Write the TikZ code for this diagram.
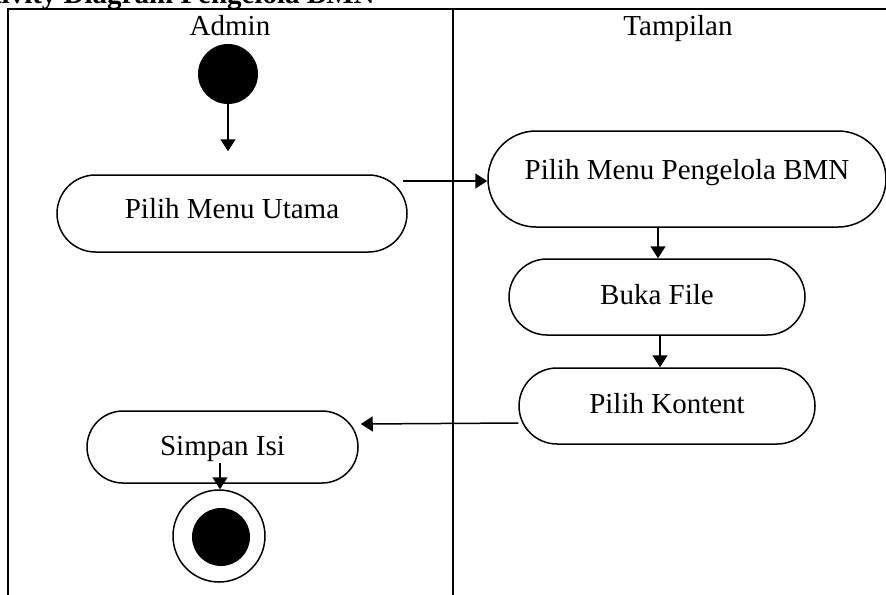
\documentclass[tikz,border=0pt]{standalone}
\usepackage{fontspec}
\setmainfont{Liberation Serif}
\usetikzlibrary{arrows.meta,calc}
\begin{document}
\begin{tikzpicture}[x=0.5pt,y=-0.5pt,
  every node/.style={font=\fontsize{14.5}{17}\selectfont},
  act/.style={draw,line width=0.75pt,rectangle,inner sep=0pt,
    text height=10pt,text depth=2.5pt},
  frameline/.style={line width=1pt},
  flow/.style={line width=0.75pt,-{Triangle[length=6pt,width=7.5pt]}}]
\useasboundingbox (0,0) rectangle (886,594);
\clip (0,0) rectangle (886,594);
% title (cut off at the top)
\node[anchor=base east,font=\fontsize{14.5}{17}\selectfont\bfseries,inner sep=0pt] (title) at (375,3.5) {Activity Diagram Pengelola BMN};
% swimlane frame
\draw[frameline] (8,600) -- (8,8.5) -- (890,8.5);
\draw[frameline] (453,8.5) -- (453,600);
\node[anchor=base,inner sep=0pt] (lane1) at (230,35) {Admin};
\node[anchor=base,inner sep=0pt] (lane2) at (678,35) {Tampilan};
% nodes
\node[circle,fill=black,minimum size=30pt,inner sep=0pt] (start) at (228,74) {};
\node[act,minimum width=175pt,minimum height=38.5pt,rounded corners=19.25pt,text height=9pt,text depth=4.5pt] (utama) at (232,213.5) {Pilih Menu Utama};
\node[act,minimum width=199pt,minimum height=48pt,rounded corners=24pt,text height=8pt,text depth=8pt] (pengelola) at (687,179) {Pilih Menu Pengelola BMN};
\node[act,minimum width=148pt,minimum height=38pt,rounded corners=19pt] (buka) at (657,297) {Buka File};
\node[act,minimum width=148pt,minimum height=38pt,rounded corners=19pt] (kontent) at (667,406) {Pilih Kontent};
\node[act,minimum width=135.5pt,minimum height=36pt,rounded corners=18pt,text height=10pt,text depth=2pt] (simpan) at (222.5,447) {Simpan Isi};
\node[circle,draw,line width=0.75pt,minimum size=46pt,inner sep=0pt] (endo) at (219,536) {};
\node[circle,fill=black,minimum size=29pt,inner sep=0pt] (endi) at (221,537) {};
% connectors
\draw[flow] (start.south) -- ($(start.south |- utama.north)+(0,-23)$);
\coordinate (a1) at (403,181);
\draw[flow] (a1) -- (pengelola.west |- a1);
\draw[flow] ($(buka.north |- pengelola.south)+(1,0)$) -- ($(buka.north)+(1,0)$);
\draw[flow] ($(buka.south)+(3,0)$) -- ($(buka.south |- kontent.north)+(3,0)$);
\draw[flow] ($(kontent.west)+(0,17)$) -- ($(simpan.east)+(2,-23)$);
\draw[flow] ($(endo.north |- simpan.center)+(1,16)$) -- ($(endo.north)+(1,0)$);
\end{tikzpicture}
\end{document}
